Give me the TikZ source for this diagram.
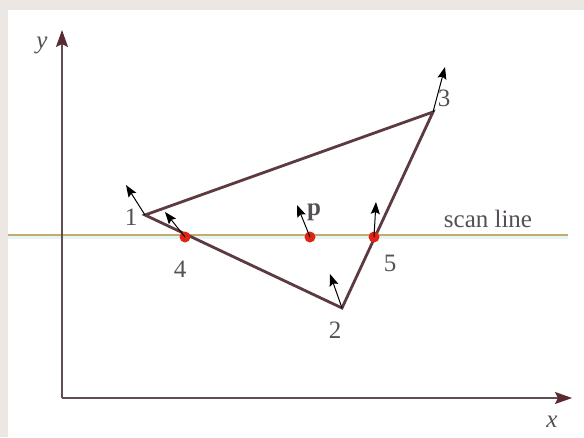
\documentclass[tikz,border=0pt]{standalone}
\usepackage{fontspec}
\setmainfont{Liberation Serif}
\usetikzlibrary{arrows.meta}
\definecolor{bgbeige}{HTML}{ECE7E3}
\definecolor{edgec}{HTML}{5C3A40}
\definecolor{axisc}{HTML}{5E5052}
\definecolor{tipc}{HTML}{5A2A30}
\definecolor{scanc}{HTML}{C4AC70}
\definecolor{scanglow}{HTML}{E6F4F4}
\definecolor{dotc}{HTML}{E02414}
\definecolor{labc}{HTML}{555055}
\begin{document}
\begin{tikzpicture}[x=1pt,y=-1pt,
  edge/.style={draw=edgec,line width=2.8pt,line join=miter},
  axis/.style={draw=axisc,line width=1.8pt,-{Stealth[length=17pt,width=12pt,inset=3pt,fill=tipc,color=tipc]}},
  normal/.style={draw=black,line width=1pt,-{Stealth[length=12pt,width=9pt,inset=2pt]}},
  dot/.style={circle,fill=dotc,inner sep=0pt,minimum size=11pt},
  lab/.style={text=labc,font=\fontsize{25}{28}\selectfont,inner sep=0pt}]
\useasboundingbox (0,0) rectangle (584,437);
\fill[bgbeige] (0,0) rectangle (584,437);
\fill[white] (8,10) rectangle (584,437);
% scan line
\fill[scanglow] (8,236) rectangle (568,239);
\coordinate (sl) at (8,235);
\coordinate (sr) at (568,235);
\draw[scanc,line width=1.1pt] (sl) -- (sr);
% axes
\coordinate (o) at (62,398);
\coordinate (ytip) at (62,30);
\coordinate (xtip) at (572,398);
\draw[axis] (o) -- (ytip);
\draw[axis] (o) -- (xtip);
% triangle
\coordinate (v1) at (145,215);
\coordinate (v2) at (342,308);
\coordinate (v3) at (433,112);
\draw[edge] (v1) -- (v2) -- (v3) -- cycle;
% points on scan line
\node[dot] (d4) at (185,237) {};
\node[dot] (dp) at (310,237) {};
\node[dot] (d5) at (374,237) {};
% normals
\coordinate (n1) at (126,185);
\coordinate (n4) at (165,212);
\coordinate (np) at (297,205);
\coordinate (n5) at (376,202);
\coordinate (n2) at (330,274);
\coordinate (n3) at (445,67);
\draw[normal] (v1) -- (n1);
\draw[normal] (d4.center) -- (n4);
\draw[normal] (dp.center) -- (np);
\draw[normal] (d5.center) -- (n5);
\draw[normal] (v2) -- (n2);
\draw[normal] (v3) -- (n3);
% labels
\node[lab] (l1) at (131,217) {1};
\node[lab] (l4) at (180,269) {4};
\node[lab] (lp) at (314,212) {\textbf{p}};
\node[lab] (l5) at (390,263) {5};
\node[lab] (l2) at (335,330) {2};
\node[lab] (l3) at (444,98) {3};
\node[lab] (ls) at (488,219) {scan line};
\node[lab] (ly) at (42,45) {\textit{y}};
\node[lab] (lx) at (552,422) {\textit{x}};
\end{tikzpicture}
\end{document}
